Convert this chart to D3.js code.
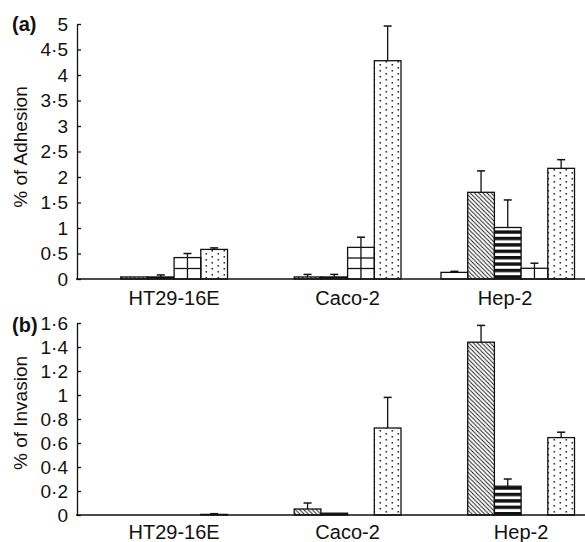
<!DOCTYPE html>
<html>
<head>
<meta charset="utf-8">
<script src="https://cdn.jsdelivr.net/npm/d3@7/dist/d3.min.js"></script>
<style>
  html, body { margin: 0; padding: 0; background: #fff; }
  svg { display: block; font-family: "Liberation Sans", Arial, Helvetica, sans-serif; }
</style>
</head>
<body>
<svg id="chart" width="585" height="542"></svg>
<script>
// ---------------- data ----------------
const groups = ["HT29-16E", "Caco-2", "Hep-2"];
const seriesKeys = ["s1", "s2", "s3", "s4", "s5"];

// Panel (a): % of Adhesion (null = no bar)
const adhesionS1 = [null, null, 0.13];
const adhesionS2 = [0.04, 0.04, 1.70];
const adhesionS3 = [0.04, 0.04, 1.01];
const adhesionS4 = [0.42, 0.62, 0.21];
const adhesionS5 = [0.58, 4.28, 2.17];
const adhesionErrS1 = [0, 0, 0.02];
const adhesionErrS2 = [0, 0.05, 0.42];
const adhesionErrS3 = [0.04, 0.05, 0.54];
const adhesionErrS4 = [0.08, 0.20, 0.10];
const adhesionErrS5 = [0.03, 0.68, 0.17];

// Panel (b): % of Invasion
const invasionS1 = [null, null, null];
const invasionS2 = [null, 0.05, 1.44];
const invasionS3 = [null, 0.015, 0.24];
const invasionS4 = [null, null, null];
const invasionS5 = [0.005, 0.725, 0.645];
const invasionErrS1 = [0, 0, 0];
const invasionErrS2 = [0, 0.05, 0.14];
const invasionErrS3 = [0, 0, 0.06];
const invasionErrS4 = [0, 0, 0];
const invasionErrS5 = [0.006, 0.255, 0.045];

const adhesionTicks = [0, 0.5, 1, 1.5, 2, 2.5, 3, 3.5, 4, 4.5, 5];
const invasionTicks = [0, 0.2, 0.4, 0.6, 0.8, 1, 1.2, 1.4, 1.6];

// ---------------- drawing ----------------
const svg = d3.select("#chart");
const defs = svg.append("defs");

// diagonal hatch "\\\"
const hatch = defs.append("pattern").attr("id", "hatch")
  .attr("patternUnits", "userSpaceOnUse").attr("width", 4.2).attr("height", 4.2);
hatch.append("path").attr("d", "M-1,-1 L5.2,5.2 M-1,3.2 L1,5.2 M3.2,-1 L5.2,1")
  .attr("stroke", "#111").attr("stroke-width", 0.9);

// horizontal stripes
const stripes = defs.append("pattern").attr("id", "stripes")
  .attr("patternUnits", "userSpaceOnUse").attr("width", 10).attr("height", 6.4).attr("y", 0);
stripes.append("rect").attr("x", 0).attr("y", 0).attr("width", 10).attr("height", 3.4).attr("fill", "#111");

// dots
const dots = defs.append("pattern").attr("id", "dots")
  .attr("patternUnits", "userSpaceOnUse").attr("width", 12).attr("height", 6);
dots.append("rect").attr("x", 1.5).attr("y", 1).attr("width", 1.6).attr("height", 1.6).attr("fill", "#333");
dots.append("rect").attr("x", 7.5).attr("y", 4).attr("width", 1.6).attr("height", 1.6).attr("fill", "#333");

const fills = { s1: "#fff", s2: "url(#hatch)", s3: "url(#stripes)", s4: "#fff", s5: "url(#dots)" };

const x = d3.scaleBand().domain(groups).range([74, 594.5]).paddingInner(0.2305).paddingOuter(0.11525);
const xs = d3.scaleBand().domain(seriesKeys).range([0, x.bandwidth()]);
const fmt = d => String(d).replace(".", "·");
const axisX0 = 77;

function panel(cfg) {
  const y = d3.scaleLinear().domain(cfg.domain).range(cfg.range);
  const g = svg.append("g");
  const base = y(0);

  const rows = [];
  seriesKeys.forEach((s, si) => {
    groups.forEach((grp, gi) => {
      const v = cfg.values[si][gi];
      if (v === null) return;
      rows.push({ s, grp, v, e: cfg.errors[si][gi] });
    });
  });

  // bars
  const bars = g.selectAll("g.bar").data(rows).enter().append("g").attr("class", "bar");
  bars.append("rect")
    .attr("x", d => x(d.grp) + xs(d.s))
    .attr("y", d => y(d.v))
    .attr("width", xs.bandwidth())
    .attr("height", d => base - y(d.v))
    .attr("fill", d => fills[d.s])
    .attr("stroke", "#111").attr("stroke-width", 1.3);

  // grid pattern for series 4
  bars.filter(d => d.s === "s4").each(function (d) {
    const sel = d3.select(this);
    const x0 = x(d.grp) + xs(d.s), top = y(d.v);
    sel.append("line")
      .attr("x1", x0 + xs.bandwidth() / 2).attr("x2", x0 + xs.bandwidth() / 2)
      .attr("y1", top).attr("y2", base)
      .attr("stroke", "#111").attr("stroke-width", 1.3);
    for (let yy = base - 10.5; yy > top + 2; yy -= 10.5) {
      sel.append("line").attr("x1", x0).attr("x2", x0 + xs.bandwidth())
        .attr("y1", yy).attr("y2", yy).attr("stroke", "#111").attr("stroke-width", 1.3);
    }
  });

  // error bars (upper only)
  const errs = rows.filter(d => d.e > 0);
  const cx = d => x(d.grp) + xs(d.s) + xs.bandwidth() / 2;
  g.selectAll("line.err").data(errs).enter().append("line").attr("class", "err")
    .attr("x1", cx).attr("x2", cx)
    .attr("y1", d => y(d.v)).attr("y2", d => y(d.v + d.e))
    .attr("stroke", "#111").attr("stroke-width", 1.3);
  g.selectAll("line.cap").data(errs).enter().append("line").attr("class", "cap")
    .attr("x1", d => cx(d) - 4).attr("x2", d => cx(d) + 4)
    .attr("y1", d => y(d.v + d.e)).attr("y2", d => y(d.v + d.e))
    .attr("stroke", "#111").attr("stroke-width", 1.5);

  // baseline
  g.append("line").attr("x1", axisX0 - 1).attr("x2", 585).attr("y1", base).attr("y2", base)
    .attr("stroke", "#111").attr("stroke-width", 1.4);

  // y axis
  const ax = g.append("g").attr("transform", `translate(${axisX0},0)`)
    .call(d3.axisLeft(y).tickValues(cfg.ticks).tickFormat(fmt)
      .tickSizeInner(-4).tickSizeOuter(0).tickPadding(9));
  ax.select(".domain").attr("stroke", "#111").attr("stroke-width", 1.3);
  ax.selectAll(".tick line").attr("stroke", "#111").attr("stroke-width", 1.3);
  ax.selectAll(".tick text").attr("font-size", 19).attr("fill", "#111")
    .attr("font-family", "Liberation Sans, Arial, sans-serif");

  // category labels
  g.selectAll("text.cat").data(groups).enter().append("text").attr("class", "cat")
    .attr("x", d => x(d) + (xs("s2") + xs("s5") + xs.bandwidth()) / 2 + (cfg.nudge[d] || 0))
    .attr("y", cfg.labelY)
    .attr("text-anchor", "middle").attr("font-size", 20).attr("fill", "#111")
    .text(d => d);

  // y title
  g.append("text")
    .attr("transform", `translate(27,${cfg.titleY}) rotate(-90)`)
    .attr("text-anchor", "middle").attr("font-size", 19).attr("fill", "#111")
    .text(cfg.title);

  // panel tag
  g.append("text").attr("x", 12).attr("y", cfg.tagY)
    .attr("font-size", 20).attr("font-weight", "bold").attr("fill", "#111")
    .text(cfg.tag);
}

panel({
  domain: [0, 5], range: [279, 24], ticks: adhesionTicks,
  values: [adhesionS1, adhesionS2, adhesionS3, adhesionS4, adhesionS5],
  errors: [adhesionErrS1, adhesionErrS2, adhesionErrS3, adhesionErrS4, adhesionErrS5],
  labelY: 305, titleY: 147, title: "% of Adhesion", tag: "(a)", tagY: 31,
  nudge: { "Hep-2": -16 }
});

panel({
  domain: [0, 1.6], range: [515, 323], ticks: invasionTicks,
  values: [invasionS1, invasionS2, invasionS3, invasionS4, invasionS5],
  errors: [invasionErrS1, invasionErrS2, invasionErrS3, invasionErrS4, invasionErrS5],
  labelY: 539, titleY: 413, title: "% of Invasion", tag: "(b)", tagY: 332,
  nudge: {}
});
</script>
</body>
</html>
